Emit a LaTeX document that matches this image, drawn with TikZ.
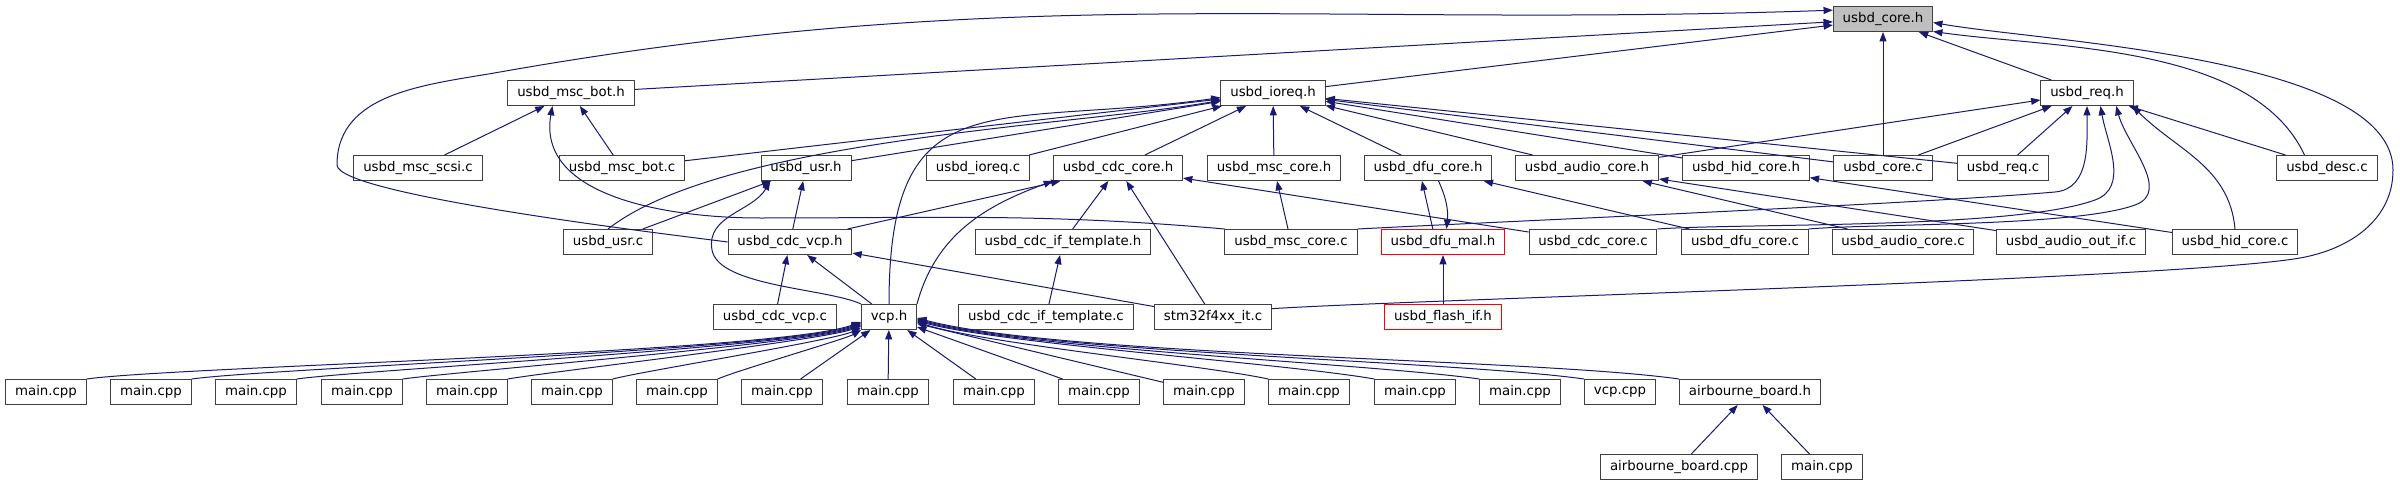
\documentclass[tikz,border=0pt]{standalone}
\usepackage{fontspec}
\setmainfont{DejaVu Sans}
\usetikzlibrary{arrows.meta}
\definecolor{edgeBlue}{RGB}{25,25,112}

\begin{document}
\begin{tikzpicture}[
    x=0.75pt, y=-0.75pt,
    file/.style={rectangle, minimum height=18.75pt, inner xsep=7pt, inner ysep=0pt, text centered, draw=black!75, line width=0.75pt, fill=white},
    rootFile/.style={file, fill=gray!50},
    missingFile/.style={file, draw=red},
    arrow/.style={<-, >={Triangle[length=7pt,width=5.2pt]}, draw=edgeBlue, line width=0.75pt}
]
\useasboundingbox (0,0) rectangle (2400,485);

% Headers at the top
\node[rootFile] (coreH) at (1883,19) {usbd\_core.h};
\node[file] (mscBotH) at (571,93) {usbd\_msc\_bot.h};
\node[file] (ioreqH) at (1273,93) {usbd\_ioreq.h};
\node[file] (reqH) at (2087,93) {usbd\_req.h};

% Second level
\node[file] (mscScsiC) at (418,168) {usbd\_msc\_scsi.c};
\node[file] (mscBotC) at (622,168) {usbd\_msc\_bot.c};
\node[file] (usrH) at (806,168) {usbd\_usr.h};
\node[file] (ioreqC) at (978,168) {usbd\_ioreq.c};
\node[file] (cdcCoreH) at (1118,168) {usbd\_cdc\_core.h};
\node[file] (mscCoreH) at (1274,168) {usbd\_msc\_core.h};
\node[file] (dfuCoreH) at (1428,168) {usbd\_dfu\_core.h};
\node[file] (audioCoreH) at (1587,168) {usbd\_audio\_core.h};
\node[file] (hidCoreH) at (1746,168) {usbd\_hid\_core.h};
\node[file] (coreC) at (1883,168) {usbd\_core.c};
\node[file] (reqC) at (2003,168) {usbd\_req.c};
\node[file] (descC) at (2327,168) {usbd\_desc.c};

% Third level
\node[file] (usrC) at (608,242) {usbd\_usr.c};
\node[file] (cdcVcpH) at (790,242) {usbd\_cdc\_vcp.h};
\node[file] (cdcIfTplH) at (1063,242) {usbd\_cdc\_if\_template.h};
\node[file] (mscCoreC) at (1291,242) {usbd\_msc\_core.c};
\node[missingFile] (dfuMalH) at (1443,242) {usbd\_dfu\_mal.h};
\node[file] (cdcCoreC) at (1593,242) {usbd\_cdc\_core.c};
\node[file] (dfuCoreC) at (1745,242) {usbd\_dfu\_core.c};
\node[file] (audioCoreC) at (1903,242) {usbd\_audio\_core.c};
\node[file] (audioOutIfC) at (2071,242) {usbd\_audio\_out\_if.c};
\node[file] (hidCoreC) at (2235,242) {usbd\_hid\_core.c};

% Fourth level
\node[file] (cdcVcpC) at (775,317) {usbd\_cdc\_vcp.c};
\node[file] (vcpH) at (889,317) {vcp.h};
\node[file] (cdcIfTplC) at (1046,317) {usbd\_cdc\_if\_template.c};
\node[file] (stmItC) at (1213,317) {stm32f4xx\_it.c};
\node[missingFile] (flashIfH) at (1443,317) {usbd\_flash\_if.h};

% Sources using vcp.h
\node[file] (main1) at (46,392) {main.cpp};
\node[file] (main2) at (151,392) {main.cpp};
\node[file] (main3) at (256,392) {main.cpp};
\node[file] (main4) at (362,392) {main.cpp};
\node[file] (main5) at (467,392) {main.cpp};
\node[file] (main6) at (572,392) {main.cpp};
\node[file] (main7) at (677,392) {main.cpp};
\node[file] (main8) at (782,392) {main.cpp};
\node[file] (main9) at (888,392) {main.cpp};
\node[file] (main10) at (994,392) {main.cpp};
\node[file] (main11) at (1099,392) {main.cpp};
\node[file] (main12) at (1204,392) {main.cpp};
\node[file] (main13) at (1309,392) {main.cpp};
\node[file] (main14) at (1415,392) {main.cpp};
\node[file] (main15) at (1520,392) {main.cpp};
\node[file] (vcpCpp) at (1620,392) {vcp.cpp};
\node[file] (airBoardH) at (1750,392) {airbourne\_board.h};

% Bottom row
\node[file] (airBoardCpp) at (1679,467) {airbourne\_board.cpp};
\node[file] (main16) at (1822,467) {main.cpp};

% Includers of usbd_core.h
\draw[arrow] (coreH.170) to[out=182, in=10] (500,72) to[out=190, in=90] (337,165) to[out=-90, in=172, looseness=0.2] (cdcVcpH.west);
\draw[arrow] (coreH) -- (mscBotH);
\draw[arrow] (coreH) -- (ioreqH);
\draw[arrow] (coreH) -- (reqH);
\draw[arrow] (coreH) -- (coreC);
\draw[arrow] (coreH.-14) to[out=-8, in=115, looseness=0.8] (descC.150);
\draw[arrow] (coreH.-4) to[out=-10, in=90, looseness=0.6] (2393,170) to[out=-90, in=10] (2300,258) to[out=190, in=4, looseness=0.3] (stmItC.8);

% Includers of usbd_ioreq.h
\draw[arrow] (ioreqH) -- (usrH);
\draw[arrow] (ioreqH.188) to[out=190, in=38, looseness=0.6] (usrC.north);
\draw[arrow] (ioreqH) -- (mscBotC);
\draw[arrow] (ioreqH) -- (ioreqC);
\draw[arrow] (ioreqH) -- (cdcCoreH);
\draw[arrow] (ioreqH) -- (mscCoreH);
\draw[arrow] (ioreqH) -- (dfuCoreH);
\draw[arrow] (ioreqH) -- (audioCoreH);
\draw[arrow] (ioreqH) -- (hidCoreH);
\draw[arrow] (ioreqH) -- (coreC);
\draw[arrow] (ioreqH) -- (reqC);
\draw[arrow] (ioreqH.185) to[out=188, in=90, looseness=1.5] (vcpH.north);

% Includers of usbd_req.h
\draw[arrow] (reqH) -- (audioCoreH);
\draw[arrow] (reqH) -- (coreC);
\draw[arrow] (reqH) -- (reqC);
\draw[arrow] (reqH) -- (descC);
\draw[arrow] (reqH.south) to[out=-90, in=5] (2055,192) to[out=185, in=3, looseness=0.5] (mscCoreC.north east);
\draw[arrow] (reqH.-44) to[out=-80, in=20] (2095,200) to[out=200, in=4, looseness=0.5] (cdcCoreC.north east);
\draw[arrow] (reqH.-24) to[out=-75, in=20] (2135,205) to[out=200, in=5, looseness=0.5] (dfuCoreC.north east);
\draw[arrow] (reqH.-16) to[out=-45, in=95] (hidCoreC.north);

% Includers of usbd_msc_bot.h
\draw[arrow] (mscBotH) -- (mscScsiC);
\draw[arrow] (mscBotH) -- (mscBotC);
\draw[arrow] (mscBotH.-145) to[out=-100, in=180] (760,218) to[out=0, in=175] (mscCoreC.north west);

% Includers of usbd_usr.h
\draw[arrow] (usrH) -- (usrC);
\draw[arrow] (usrH) -- (cdcVcpH);
\draw[arrow] (usrH.-160) to[out=-120, in=100] (712,250) to[out=-80, in=155, looseness=0.6] (vcpH.north west);

% Includers of usbd_cdc_core.h
\draw[arrow] (cdcCoreH) -- (cdcVcpH);
\draw[arrow] (cdcCoreH.south west) to[out=200, in=75] (vcpH.north east);
\draw[arrow] (cdcCoreH) -- (cdcIfTplH);
\draw[arrow] (cdcCoreH) -- (stmItC);
\draw[arrow] (cdcCoreH) -- (cdcCoreC);

% Other headers of the class drivers
\draw[arrow] (mscCoreH) -- (mscCoreC);
\draw[arrow] (dfuCoreH.-115) -- (dfuMalH.128);
\draw[arrow] (dfuMalH.75) to[bend right=15] (dfuCoreH.-51);
\draw[arrow] (dfuCoreH) -- (dfuCoreC);
\draw[arrow] (audioCoreH) -- (audioCoreC);
\draw[arrow] (audioCoreH) -- (audioOutIfC);
\draw[arrow] (hidCoreH) -- (hidCoreC);
\draw[arrow] (cdcVcpH) -- (cdcVcpC);
\draw[arrow] (cdcVcpH) -- (vcpH);
\draw[arrow] (cdcVcpH) -- (stmItC);
\draw[arrow] (cdcIfTplH) -- (cdcIfTplC);
\draw[arrow] (dfuMalH) -- (flashIfH);

% Includers of vcp.h
\draw[arrow] (vcpH.190) to[out=200, in=8, looseness=0.3] (main1.north east);
\draw[arrow] (vcpH.192) to[out=200, in=8, looseness=0.3] (main2.north east);
\draw[arrow] (vcpH.194) to[out=200, in=8, looseness=0.3] (main3.north east);
\draw[arrow] (vcpH.196) to[out=200, in=8, looseness=0.3] (main4.north east);
\draw[arrow] (vcpH.198) to[out=200, in=10, looseness=0.3] (main5.north east);
\draw[arrow] (vcpH.201) to[out=205, in=15, looseness=0.3] (main6.north east);
\draw[arrow] (vcpH.205) to[out=210, in=25, looseness=0.3] (main7.north east);
\draw[arrow] (vcpH) -- (main8);
\draw[arrow] (vcpH) -- (main9);
\draw[arrow] (vcpH) -- (main10);
\draw[arrow] (vcpH) -- (main11);
\draw[arrow] (vcpH) -- (main12);
\draw[arrow] (vcpH.-10) to[out=-18, in=168, looseness=0.5] (main13.north west);
\draw[arrow] (vcpH.-8) to[out=-15, in=170, looseness=0.5] (main14.north west);
\draw[arrow] (vcpH.-6) to[out=-15, in=172, looseness=0.5] (main15.north west);
\draw[arrow] (vcpH.-4) to[out=-15, in=172, looseness=0.5] (vcpCpp.north west);
\draw[arrow] (vcpH.-2) to[out=-15, in=172, looseness=0.5] (airBoardH.north west);

% Includers of airbourne_board.h
\draw[arrow] (airBoardH) -- (airBoardCpp);
\draw[arrow] (airBoardH) -- (main16);

\end{tikzpicture}
\end{document}
